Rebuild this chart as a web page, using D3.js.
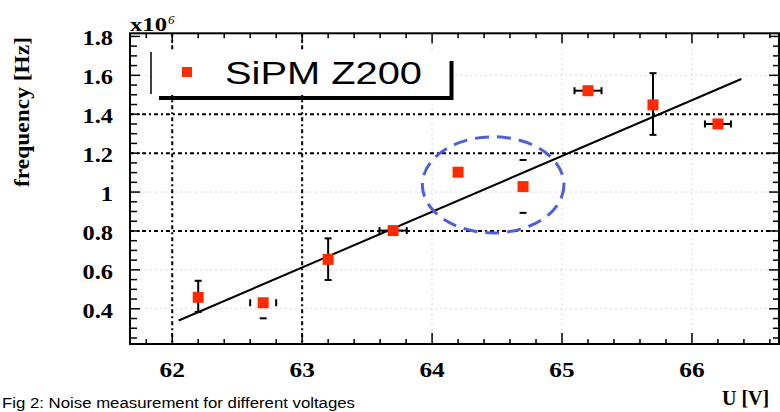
<!DOCTYPE html>
<html>
<head>
<meta charset="utf-8">
<script src="https://cdn.jsdelivr.net/npm/d3@7"></script>
<style>
  html, body { margin: 0; padding: 0; background: #fff; }
  svg { display: block; }
</style>
</head>
<body>
<svg id="chart" width="780" height="412"></svg>
<script>
// ---- data ----
const voltage = [62.2, 62.7, 63.2, 63.7, 64.2, 64.7, 65.2, 65.7, 66.2];
const frequency = [0.459, 0.431, 0.654, 0.802, 1.102, 1.028, 1.521, 1.448, 1.350];
const xErr = [0, 0.1, 0, 0.105, 0, 0, 0.104, 0, 0.1];
const yErrLo = [0.075, 0.08, 0.106, 0, 0, 0.135, 0, 0.154, 0];
const yErrHi = [0.085, 0, 0.108, 0, 0, 0.137, 0, 0.163, 0];
const capsOnly = [false, true, false, false, false, true, false, false, false];
const fitX = [62.05, 66.38];
const fitY = [0.340, 1.581];
const xTickLabels = [62, 63, 64, 65, 66];
const yTickLabels = [0.4, 0.6, 0.8, 1, 1.2, 1.4, 1.6, 1.8];
const strongGridX = [62, 63];
const strongGridY = [0.8, 1.2, 1.4];
const faintGridX = [64, 65, 66];
const faintGridY = [0.4, 0.6, 1.0, 1.6];
const legendLabel = "SiPM Z200";
const yTitle = "frequency [Hz]";
const xTitle = "U [V]";
const caption = "Fig 2: Noise measurement for different voltages";
const exponentBase = "x10";
const exponentPower = "6";
const ellipseCenter = [64.47, 1.037];
const ellipseRadii = [0.545, 0.247];

// ---- layout ----
const L = 130, R = 779, T = 33.3, B = 344;
const x = d3.scaleLinear().domain([61.675, 66.67]).range([L, R]);
const y = d3.scaleLinear().domain([0.219, 1.816]).range([B, T]);

const svg = d3.select("#chart");
const serif = "'Liberation Serif', 'DejaVu Serif', serif";
const sans = "'Liberation Sans', Arial, sans-serif";
const red = "#ff2a00";

// faint grid
const g = svg.append("g");
g.selectAll(".fgx").data(faintGridX).enter().append("line")
  .attr("x1", d => x(d)).attr("x2", d => x(d)).attr("y1", T).attr("y2", B)
  .attr("stroke", "#d8d8d8").attr("stroke-width", 1).attr("stroke-dasharray", "2,3");
g.selectAll(".fgy").data(faintGridY).enter().append("line")
  .attr("x1", L).attr("x2", R).attr("y1", d => y(d)).attr("y2", d => y(d))
  .attr("stroke", "#d8d8d8").attr("stroke-width", 1).attr("stroke-dasharray", "2,3");
// strong grid
g.selectAll(".sgx").data(strongGridX).enter().append("line")
  .attr("x1", d => x(d)).attr("x2", d => x(d)).attr("y1", T).attr("y2", B)
  .attr("stroke", "#000").attr("stroke-width", 2).attr("stroke-dasharray", "4,3,2,3");
g.selectAll(".sgy").data(strongGridY).enter().append("line")
  .attr("x1", L).attr("x2", R).attr("y1", d => y(d)).attr("y2", d => y(d))
  .attr("stroke", "#000").attr("stroke-width", 2).attr("stroke-dasharray", "4,3,2,3");

// axes ticks (ROOT-like, inside)
const xMinor = d3.range(61.8, 66.7, 0.2).map(v => +v.toFixed(2));
const yMinor = d3.range(0.25, 1.816, 0.05).map(v => +v.toFixed(2));
const isInt = v => Math.abs(v - Math.round(v)) < 1e-6;
const isMajY = v => Math.abs(v * 5 - Math.round(v * 5)) < 1e-6;
const ax = svg.append("g").attr("stroke", "#000").attr("stroke-width", 1.5);
ax.selectAll(".bt").data(xMinor).enter().append("line")
  .attr("x1", d => x(d)).attr("x2", d => x(d))
  .attr("y1", B).attr("y2", d => B - (isInt(d) ? 11 : 5));
ax.selectAll(".tt").data(xMinor).enter().append("line")
  .attr("x1", d => x(d)).attr("x2", d => x(d))
  .attr("y1", T).attr("y2", d => T + (isInt(d) ? 10 : 5));
ax.selectAll(".lt").data(yMinor).enter().append("line")
  .attr("x1", L).attr("x2", d => L + (isMajY(d) ? 10 : 7))
  .attr("y1", d => y(d)).attr("y2", d => y(d));
ax.selectAll(".rt").data(yMinor).enter().append("line")
  .attr("x1", R).attr("x2", d => R - (isMajY(d) ? 10 : 6))
  .attr("y1", d => y(d)).attr("y2", d => y(d));

// frame
svg.append("rect").attr("x", L).attr("y", T).attr("width", R - L).attr("height", B - T)
  .attr("fill", "none").attr("stroke", "#000").attr("stroke-width", 2);

// tick labels
function stretch(sel, f) {
  sel.each(function () {
    const w = this.getComputedTextLength();
    d3.select(this).attr("textLength", w * f).attr("lengthAdjust", "spacingAndGlyphs");
  });
}
svg.selectAll(".xl").data(xTickLabels).enter().append("text")
  .attr("x", d => x(d)).attr("y", 376.5)
  .attr("text-anchor", "middle").attr("font-family", serif).attr("font-weight", "bold")
  .attr("font-size", 22).text(d => d).call(stretch, 1.15);
svg.selectAll(".yl").data(yTickLabels).enter().append("text")
  .attr("x", 113).attr("y", d => y(d) + 9)
  .attr("text-anchor", "end").attr("font-family", serif).attr("font-weight", "bold")
  .attr("font-size", 20).text(d => d3.format("")(d)).call(stretch, 1.22);

// exponent
svg.append("text").attr("x", 130).attr("y", 31)
  .attr("font-family", serif).attr("font-weight", "bold").attr("font-size", 19)
  .attr("textLength", 37).attr("lengthAdjust", "spacingAndGlyphs").text(exponentBase);
svg.append("text").attr("x", 168).attr("y", 24)
  .attr("font-family", serif).attr("font-style", "italic").attr("font-size", 13)
  .text(exponentPower);

// axis titles
svg.append("text").attr("transform", "translate(29,112) rotate(-90)")
  .attr("text-anchor", "middle").attr("font-family", serif).attr("font-weight", "bold")
  .attr("font-size", 20).attr("textLength", 150).attr("lengthAdjust", "spacingAndGlyphs")
  .text(yTitle);
svg.append("text").attr("x", 722).attr("y", 405)
  .attr("font-family", serif).attr("font-weight", "bold").attr("font-size", 20)
  .text(xTitle);
svg.append("text").attr("x", 2).attr("y", 408)
  .attr("font-family", sans).attr("font-size", 14)
  .attr("textLength", 353).attr("lengthAdjust", "spacingAndGlyphs").text(caption);

// fit line
svg.append("line")
  .attr("x1", x(fitX[0])).attr("y1", y(fitY[0]))
  .attr("x2", x(fitX[1])).attr("y2", y(fitY[1]))
  .attr("stroke", "#000").attr("stroke-width", 2);

// error bars
const pts = voltage.map((v, i) => ({
  v, f: frequency[i], xe: xErr[i], lo: yErrLo[i], hi: yErrHi[i], co: capsOnly[i]
}));
const eb = svg.append("g").attr("stroke", "#000").attr("stroke-width", 2);
pts.forEach(p => {
  const cx = x(p.v), cy = y(p.f);
  if (p.xe > 0) {
    if (!p.co) eb.append("line").attr("x1", x(p.v - p.xe)).attr("x2", x(p.v + p.xe)).attr("y1", cy).attr("y2", cy);
    [p.v - p.xe, p.v + p.xe].forEach(e =>
      eb.append("line").attr("x1", x(e)).attr("x2", x(e)).attr("y1", cy - 3.5).attr("y2", cy + 3.5));
  }
  if (p.lo > 0 || p.hi > 0) {
    if (!p.co) eb.append("line").attr("x1", cx).attr("x2", cx)
      .attr("y1", y(p.f + p.hi)).attr("y2", y(p.f - p.lo));
    if (p.hi > 0) eb.append("line").attr("x1", cx - 3.5).attr("x2", cx + 3.5)
      .attr("y1", y(p.f + p.hi)).attr("y2", y(p.f + p.hi));
    if (p.lo > 0) eb.append("line").attr("x1", cx - 3.5).attr("x2", cx + 3.5)
      .attr("y1", y(p.f - p.lo)).attr("y2", y(p.f - p.lo));
  }
});

// markers
svg.selectAll(".pt").data(pts).enter().append("rect")
  .attr("x", d => x(d.v) - 5.5).attr("y", d => y(d.f) - 5.5)
  .attr("width", 11).attr("height", 11).attr("fill", red);

// dashed ellipse
svg.append("ellipse")
  .attr("cx", x(ellipseCenter[0])).attr("cy", y(ellipseCenter[1]))
  .attr("rx", x(ellipseCenter[0] + ellipseRadii[0]) - x(ellipseCenter[0]))
  .attr("ry", y(ellipseCenter[1]) - y(ellipseCenter[1] + ellipseRadii[1]))
  .attr("fill", "none").attr("stroke", "#4f5fdc").attr("stroke-width", 3)
  .attr("stroke-dasharray", "14,8");

// legend (box with shadow)
const lg = svg.append("g");
lg.append("rect").attr("x", 151).attr("y", 52).attr("width", 298).attr("height", 43).attr("fill", "#fff");
lg.append("line").attr("x1", 151).attr("x2", 151).attr("y1", 52).attr("y2", 94)
  .attr("stroke", "#000").attr("stroke-width", 1.5);
lg.append("line").attr("x1", 159).attr("x2", 453).attr("y1", 98).attr("y2", 98)
  .attr("stroke", "#000").attr("stroke-width", 4);
lg.append("line").attr("x1", 451.5).attr("x2", 451.5).attr("y1", 61).attr("y2", 100)
  .attr("stroke", "#000").attr("stroke-width", 4);
lg.append("rect").attr("x", 182).attr("y", 67).attr("width", 10).attr("height", 10).attr("fill", red);
lg.append("text").attr("x", 225).attr("y", 83.5)
  .attr("font-family", sans).attr("font-size", 32)
  .attr("textLength", 197).attr("lengthAdjust", "spacingAndGlyphs").text(legendLabel);
</script>
</body>
</html>
